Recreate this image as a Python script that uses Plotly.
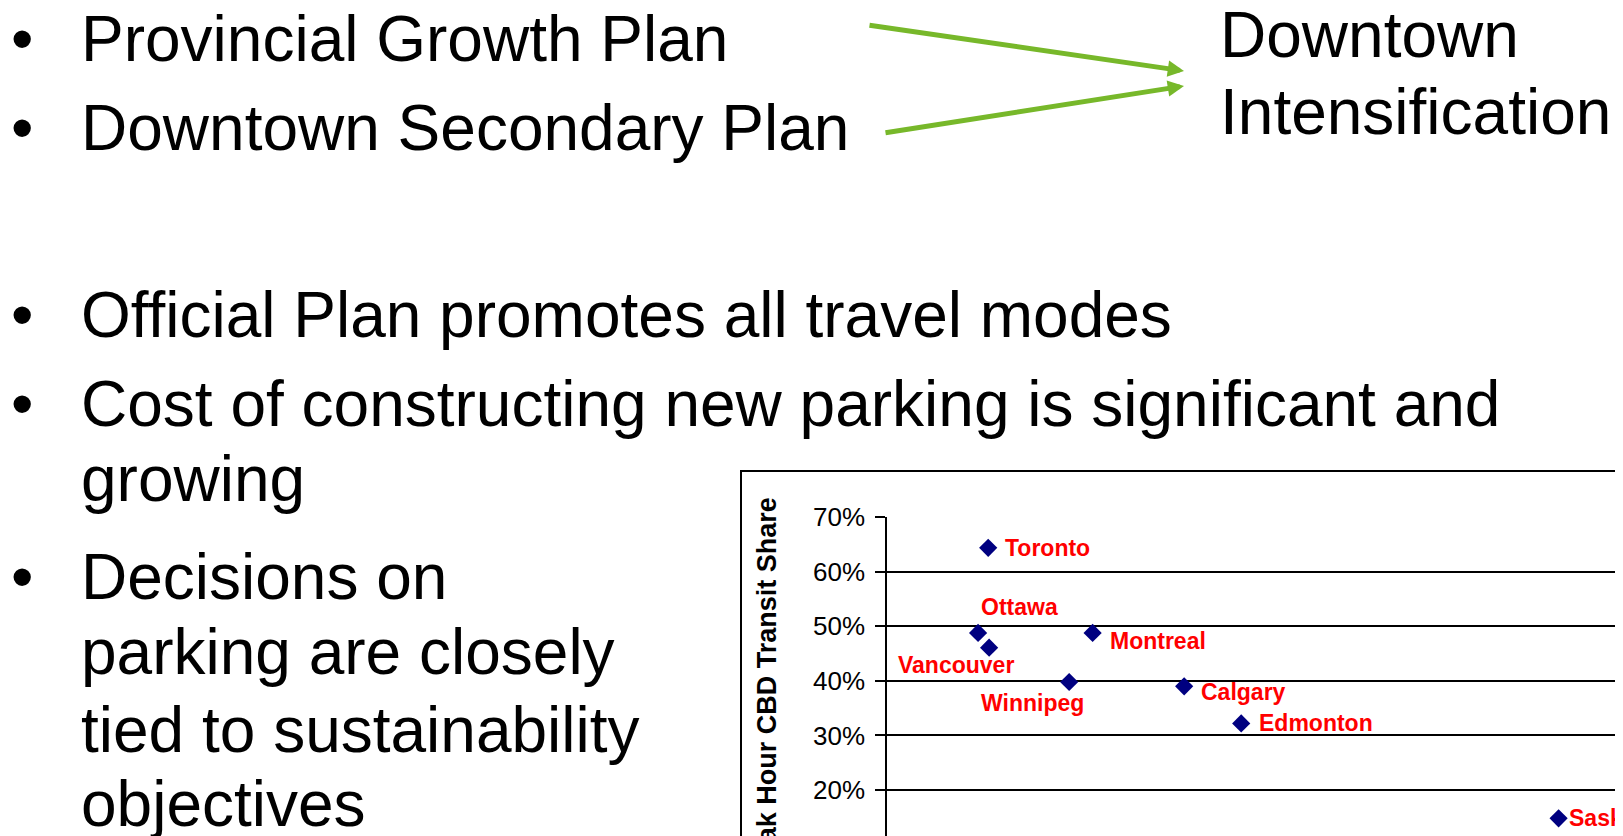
import plotly.graph_objects as go

# ---------------- data ----------------
cities = ["Toronto", "Ottawa", "Vancouver", "Montreal", "Winnipeg", "Calgary", "Edmonton", "Saskatoon"]
parking_supply = [11.0, 9.9, 11.1, 22.35, 19.8, 32.3, 38.5, 73.0]
transit_share = [64.4, 48.8, 46.1, 48.8, 39.8, 39.0, 32.2, 14.8]
y_tick_values = [10, 20, 30, 40, 50, 60, 70]
y_tick_labels = ["10%", "20%", "30%", "40%", "50%", "60%", "70%"]
y_axis_title = "Peak Hour CBD Transit Share"

slide_lines = [
    "Provincial Growth Plan",
    "Downtown Secondary Plan",
    "Official Plan promotes all travel modes",
    "Cost of constructing new parking is significant and",
    "growing",
    "Decisions on",
    "parking are closely",
    "tied to sustainability",
    "objectives",
]
slide_bullets = [True, True, True, True, False, True, False, False, False]
side_lines = ["Downtown", "Intensification"]

# ---------------- geometry (screen pixels; page body has an 8px margin) ----------------
SCREEN_W, SCREEN_H = 1623, 836
OFF = 8
W, H = SCREEN_W - OFF, SCREEN_H - OFF

FONT = "Liberation Sans, Arial, sans-serif"


def px(x):
    return (x - OFF) / W


def py(y):
    return 1 - (y - OFF) / H


TEXT_DY = 4
line_centers = [34.5, 124.5, 311.1, 399.5, 474.5, 572.8, 647.8, 726.1, 799.5]
side_centers = [31.1, 107.8]

# label placement for each city: (xanchor, xshift, yshift)
label_place = {
    "Toronto": ("left", 15, 0),
    "Ottawa": ("center", 41, 26),
    "Vancouver": ("center", -33, -17),
    "Montreal": ("left", 15, -8),
    "Winnipeg": ("center", -37, -21),
    "Calgary": ("left", 15, -6),
    "Edmonton": ("left", 16, 0),
    "Saskatoon": ("left", 8, 0),
}

y_top_px = 517.3
px_per_pct = 5.454
y_min = 70 - (SCREEN_H - y_top_px) / px_per_pct

fig = go.Figure()
fig.add_trace(go.Scatter(
    x=parking_supply, y=transit_share, mode="markers",
    marker=dict(symbol="diamond", size=14, color="#000080"),
    hoverinfo="text", text=cities, showlegend=False, cliponaxis=False,
))

annotations = []
for c, xv, yv in zip(cities, parking_supply, transit_share):
    xa, xs, ys = label_place[c]
    annotations.append(dict(
        x=xv, y=yv, xref="x", yref="y", text="<b>%s</b>" % c, showarrow=False,
        xanchor=xa, yanchor="middle", xshift=xs, yshift=ys,
        font=dict(family=FONT, size=23, color="#FF0000"),
    ))

for t, b, yc in zip(slide_lines, slide_bullets, line_centers):
    annotations.append(dict(
        x=px(79), y=py(yc + TEXT_DY), xref="paper", yref="paper", text=t, showarrow=False,
        xanchor="left", yanchor="middle", font=dict(family=FONT, size=64, color="#000000"),
    ))
    if b:
        annotations.append(dict(
            x=px(22), y=py(yc + TEXT_DY), xref="paper", yref="paper", text="\u2022", showarrow=False,
            xanchor="center", yanchor="middle", font=dict(family=FONT, size=64, color="#000000"),
        ))
for t, yc in zip(side_lines, side_centers):
    annotations.append(dict(
        x=px(1218), y=py(yc + TEXT_DY), xref="paper", yref="paper", text=t, showarrow=False,
        xanchor="left", yanchor="middle", font=dict(family=FONT, size=64, color="#000000"),
    ))

for tip, tail in [((1184, 71), (868, 25)), ((1184, 86), (884, 133))]:
    annotations.append(dict(
        x=px(tip[0]), y=py(tip[1]), xref="paper", yref="paper", text="",
        showarrow=True, ax=tail[0] - tip[0], ay=tail[1] - tip[1], axref="pixel", ayref="pixel",
        arrowhead=2, arrowsize=0.65, arrowwidth=5, arrowcolor="#77B82A", standoff=0,
    ))

annotations.append(dict(
    x=px(766.5), y=py(686.8), xref="paper", yref="paper", text="<b>%s</b>" % y_axis_title,
    showarrow=False, textangle=-90, xanchor="center", yanchor="middle",
    font=dict(family=FONT, size=27, color="#000000"),
))
# lowest tick label, which sits just below the visible slide
annotations.append(dict(
    x=px(867), y=py(y_top_px + (70 - y_tick_values[0]) * px_per_pct), xref="paper", yref="paper",
    text=y_tick_labels[0], showarrow=False, xanchor="right", yanchor="middle",
    font=dict(family=FONT, size=26, color="#000000"),
))

fig.update_layout(
    width=W, height=H,
    margin=dict(l=0, r=0, t=0, b=0, pad=0),
    paper_bgcolor="white", plot_bgcolor="white",
    xaxis=dict(domain=[px(887), 1], range=[0, 80], showgrid=False, zeroline=False,
               showline=False, showticklabels=False, ticks="", automargin=False),
    yaxis=dict(domain=[0, py(y_top_px)], range=[y_min, 70.0],
               tickmode="array", tickvals=y_tick_values[1:], ticktext=y_tick_labels[1:],
               showgrid=True, gridcolor="#000000", gridwidth=2,
               zeroline=False, showline=True, linecolor="#000000", linewidth=1.5,
               ticks="outside", ticklen=10, tickwidth=1.5, tickcolor="#000000",
               ticklabelstandoff=5, automargin=False,
               tickfont=dict(family=FONT, size=26, color="#000000")),
    annotations=annotations,
    shapes=[dict(type="rect", xref="paper", yref="paper", x0=px(741), x1=1.1,
                 y0=-0.1, y1=py(471), line=dict(color="#000000", width=2), layer="below")],
    showlegend=False,
)

fig.write_html("out.html")
